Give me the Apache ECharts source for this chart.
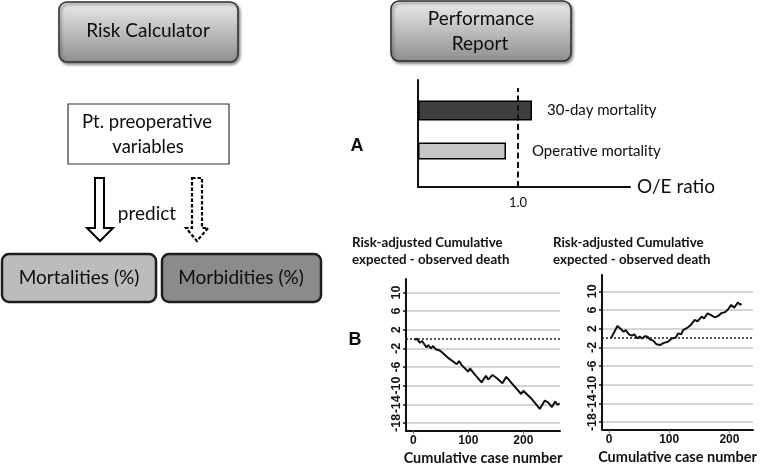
<!DOCTYPE html>
<html>
<head>
<meta charset="utf-8">
<script src="https://cdn.jsdelivr.net/npm/echarts@6/dist/echarts.min.js"></script>
<style>
html,body{margin:0;padding:0;background:#fff;}
#chart{width:761px;height:475px;}
</style>
</head>
<body>
<div id="chart"></div>
<script>
// ---- Panel A data ----
const barCategories = ['30-day mortality', 'Operative mortality'];
const oeRatios = [1.14, 0.88];
const refRatio = 1.0;
const oeAxisMax = 2.12;

// ---- Panel B data ----
const yTicks = [-18, -14, -10, -6, -2, 2, 6, 10];
const xTicks = [0, 100, 200];
const caseLeft = [2, 6, 12, 16, 24, 27, 32, 36, 41, 44, 49, 64, 79, 83, 88, 100, 103, 109, 124, 132, 136, 144, 152, 162, 169, 182, 196, 200, 214, 230, 239, 245, 252, 258, 262, 266];
const cumLeft = [-0.2, 0.1, -0.8, -0.4, -1.8, -1.3, -2.0, -1.5, -2.2, -1.8, -2.5, -4.1, -5.4, -4.7, -5.6, -7.0, -6.3, -7.2, -9.3, -7.9, -8.7, -7.7, -8.4, -9.5, -8.1, -9.9, -11.8, -11.1, -12.7, -15.0, -13.2, -13.6, -14.6, -13.4, -14.1, -13.8];
const caseRight = [3, 9, 14, 20, 24, 28, 33, 38, 42, 47, 51, 55, 60, 64, 68, 74, 79, 85, 90, 93, 98, 104, 107, 111, 115, 120, 123, 129, 136, 142, 147, 154, 158, 164, 171, 176, 182, 187, 192, 197, 203, 208, 214, 218, 220];
const cumRight = [-0.1, 1.35, 2.6, 1.9, 1.35, 1.7, 0.8, 0.5, 0.8, -0.1, 0.3, -0.1, 0.4, 0.3, -0.3, -0.6, -1.35, -1.5, -1.1, -1.35, -0.8, -0.1, 0.3, 0.1, 1.0, 0.8, 1.7, 2.1, 2.8, 3.85, 3.6, 4.6, 4.2, 5.3, 4.8, 4.4, 4.8, 5.35, 5.5, 6.0, 7.1, 6.5, 7.6, 7.1, 7.4];

const panelTitle = 'Risk-adjusted Cumulative\nexpected - observed death';
const xName = 'Cumulative case number';

const chart = echarts.init(document.getElementById('chart'), null, {renderer: 'canvas'});

const DIAG_FONT = 'Lato, "Open Sans", sans-serif';
const grad = () => new echarts.graphic.LinearGradient(0, 0, 0, 1, [
  {offset: 0, color: '#ececec'}, {offset: 1, color: '#8e8e8e'}
]);
const boxShadow = {shadowBlur: 3, shadowOffsetX: 1.5, shadowOffsetY: 2, shadowColor: 'rgba(0,0,0,0.45)'};
function txt(text, x, y, size, weight, family) {
  return {
    type: 'text', x: x, y: y, silent: true,
    style: {text: text, fontFamily: family || DIAG_FONT, fontSize: size, fontWeight: weight || 'normal',
      fill: '#0d0d0d', align: 'center', verticalAlign: 'middle'}
  };
}

function pair(xs, ys) { return xs.map((x, i) => [x, ys[i]]); }

const bAxisLabel = {fontFamily: '"Liberation Sans", Arial, sans-serif', fontWeight: 'bold', fontSize: 12, color: '#111'};

function cumXAxis(gridIndex, min, max) {
  return {
    type: 'value', gridIndex: gridIndex, min: min, max: max,
    axisLine: {show: true, onZero: false, lineStyle: {color: '#111', width: 2}},
    axisTick: {show: true, length: 3, customValues: xTicks, lineStyle: {color: '#666', width: 1}},
    axisLabel: Object.assign({customValues: xTicks, margin: 4}, bAxisLabel),
    splitLine: {show: false},
    name: xName, nameLocation: 'middle', nameGap: 20,
    nameTextStyle: {fontFamily: DIAG_FONT, fontWeight: 'bold', fontSize: 14.5, color: '#111'}
  };
}
function cumYAxis(gridIndex, min, max) {
  return {
    type: 'value', gridIndex: gridIndex, min: min, max: max,
    axisLine: {show: true, onZero: false, lineStyle: {color: '#111', width: 2}},
    axisTick: {show: true, length: 3, customValues: yTicks, lineStyle: {color: '#111', width: 1.5}},
    axisLabel: Object.assign({customValues: yTicks, rotate: 90, margin: 3}, bAxisLabel, {fontSize: 12.5}),
    splitLine: {show: true, lineStyle: {color: '#c9c9c9', width: 1.5}}
  };
}
const zeroLine = {
  symbol: 'none', silent: true, label: {show: false},
  lineStyle: {type: [2, 2], color: '#222', width: 1.5},
  data: [{yAxis: 0}]
};
const titleStyle = {fontFamily: DIAG_FONT, fontWeight: 'bold', fontSize: 13.3, lineHeight: 17, color: '#111'};

// layout / styling for panel A (not data)
const oeGrid = {left: 418, width: 212};
const pxPerUnit = oeGrid.width / oeAxisMax;
const barLook = [
  {width: 20, color: '#3e3e3e', labelGap: 15},
  {width: 17, color: '#c6c6c6', labelGap: 26}
];
function oeBarSeries(k) {
  return {
    type: 'bar', xAxisIndex: 1, yAxisIndex: 1, barWidth: barLook[k].width, barGap: '-100%',
    data: oeRatios.map((v, i) => (i === k ? {
      value: v,
      label: {show: true, position: [v * pxPerUnit + barLook[k].labelGap, '50%'],
        align: 'left', verticalAlign: 'middle', formatter: barCategories[i],
        fontFamily: DIAG_FONT, fontSize: 15, color: '#0d0d0d'}
    } : '-')),
    itemStyle: {color: barLook[k].color, borderColor: '#000', borderWidth: 1.5}
  };
}

const option = {
  animation: false,
  backgroundColor: '#fff',
  title: [
    {text: panelTitle, left: 352, top: 234, padding: 0, textStyle: titleStyle},
    {text: panelTitle, left: 553, top: 234, padding: 0, textStyle: titleStyle}
  ],
  grid: [
    {left: oeGrid.left, top: 80, width: oeGrid.width, height: 107, outerBoundsMode: 'none'},
    {left: oeGrid.left, top: 88, width: oeGrid.width, height: 84, outerBoundsMode: 'none'},
    {left: 406, top: 279, width: 154, height: 152, outerBoundsMode: 'none'},
    {left: 602, top: 275, width: 151, height: 155, outerBoundsMode: 'none'}
  ],
  xAxis: [
    {type: 'value', gridIndex: 0, min: 0, max: oeAxisMax, interval: 1,
      axisLine: {show: true, lineStyle: {color: '#111', width: 2}},
      axisTick: {show: false}, splitLine: {show: false},
      axisLabel: {show: true, margin: 9, showMaxLabel: false, fontFamily: DIAG_FONT, fontSize: 13, color: '#0d0d0d',
        formatter: v => (v === refRatio ? refRatio.toFixed(1) : '')},
      name: 'O/E ratio', nameLocation: 'end', nameGap: 7,
      nameTextStyle: {fontFamily: DIAG_FONT, fontSize: 19, color: '#0d0d0d', verticalAlign: 'middle'}},
    {type: 'value', gridIndex: 1, min: 0, max: oeAxisMax, show: false},
    cumXAxis(2, -13.3, 266.7),
    cumXAxis(3, -11.6, 239.2)
  ],
  yAxis: [
    {type: 'value', gridIndex: 0, min: 0, max: 1,
      axisLine: {show: true, lineStyle: {color: '#111', width: 2}},
      axisTick: {show: false}, axisLabel: {show: false}, splitLine: {show: false}},
    {type: 'category', gridIndex: 1, data: barCategories, inverse: true, show: false},
    cumYAxis(2, -19.74, 12.9),
    cumYAxis(3, -19.7, 13.5)
  ],
  series: [
    {type: 'line', xAxisIndex: 0, yAxisIndex: 0, data: [], silent: true,
      markLine: {symbol: 'none', silent: true, label: {show: false},
        lineStyle: {type: [6, 3.5], color: '#111', width: 2},
        data: [[{coord: [refRatio, 0]}, {coord: [refRatio, 0.925]}]]}},
    oeBarSeries(0),
    oeBarSeries(1),
    {type: 'line', xAxisIndex: 2, yAxisIndex: 2, data: pair(caseLeft, cumLeft), showSymbol: false,
      lineStyle: {color: '#111', width: 2}, markLine: zeroLine},
    {type: 'line', xAxisIndex: 3, yAxisIndex: 3, data: pair(caseRight, cumRight), showSymbol: false,
      lineStyle: {color: '#111', width: 2}, markLine: zeroLine}
  ],
  graphic: [
    {type: 'rect', shape: {x: 59, y: 2, width: 179, height: 60, r: 8},
      style: Object.assign({fill: grad(), stroke: '#2e2e2e', lineWidth: 1.5}, boxShadow)},
    txt('Risk Calculator', 148, 31, 19),
    {type: 'rect', shape: {x: 391, y: 1, width: 180, height: 60, r: 8},
      style: Object.assign({fill: grad(), stroke: '#2e2e2e', lineWidth: 1.5}, boxShadow)},
    txt('Performance', 481, 19, 19),
    txt('Report', 480, 44, 19),
    {type: 'rect', shape: {x: 68, y: 104, width: 161, height: 60},
      style: {fill: '#fff', stroke: '#333', lineWidth: 1.2}},
    txt('Pt. preoperative', 147, 122, 18.5),
    txt('variables', 148, 147, 18.5),
    {type: 'polygon', shape: {points: [[95, 178], [104, 178], [104, 228], [113, 228], [100, 241], [87, 228], [95, 228]]},
      style: {fill: '#fff', stroke: '#000', lineWidth: 2}},
    {type: 'polygon', shape: {points: [[192, 178], [202, 178], [202, 228], [208, 228], [197, 241], [186, 228], [192, 228]]},
      style: {fill: '#fff', stroke: '#000', lineWidth: 2.2, lineDash: [3.5, 2]}},
    txt('predict', 147, 214, 19),
    {type: 'rect', shape: {x: 2, y: 254, width: 154, height: 48, r: 7},
      style: {fill: '#bcbcbc', stroke: '#1e1e1e', lineWidth: 2.5}},
    txt('Mortalities (%)', 79, 278, 19),
    {type: 'rect', shape: {x: 162, y: 254, width: 159, height: 48, r: 7},
      style: {fill: '#8b8b8b', stroke: '#1e1e1e', lineWidth: 2.5}},
    txt('Morbidities (%)', 241, 278, 19),
    txt('A', 357, 146, 18, 'bold', '"Liberation Sans", Arial, sans-serif'),
    txt('B', 355, 340, 18, 'bold', '"Liberation Sans", Arial, sans-serif')
  ]
};
chart.setOption(option);
</script>
</body>
</html>
